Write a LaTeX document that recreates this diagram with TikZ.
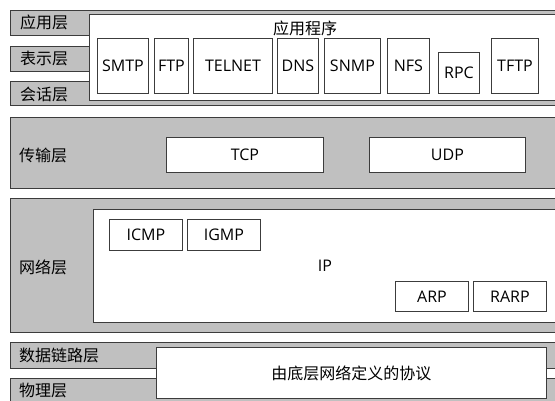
\documentclass[tikz,border=0pt]{standalone}
\usepackage{fontspec}
\setmainfont{Open Sans}
\newfontfamily\cjk{Noto Sans CJK SC}
\usetikzlibrary{positioning}

\definecolor{layergray}{HTML}{C0C0C0}
\definecolor{edgegray}{HTML}{3C3C3C}

\tikzset{
  layer/.style={draw=edgegray, fill=layergray, line width=0.9pt, anchor=north west, inner sep=0pt},
  panel/.style={draw=edgegray, fill=white, line width=0.9pt, anchor=north west, inner sep=0pt},
  proto/.style={draw=edgegray, fill=white, line width=0.9pt, anchor=north west, inner sep=0pt,
    font=\fontsize{16}{18}\selectfont},
  lname/.style={anchor=west, inner sep=0pt, font=\cjk\fontsize{16}{18}\selectfont},
}

\begin{document}
\begin{tikzpicture}[x=1pt, y=-1pt]
        \useasboundingbox (0,0) rectangle (555,400);
        \clip (0,0) rectangle (555,400);

        % 层
        \node[layer, minimum width=560pt, minimum height=25pt] (app) at (10,10) {};
        \node[layer, minimum width=560pt, minimum height=25pt] (pres) at (10,46) {};
        \node[layer, minimum width=560pt, minimum height=24pt] (sess) at (10,81) {};
        \node[layer, minimum width=560pt, minimum height=71pt] (trans) at (10,117) {};
        \node[layer, minimum width=560pt, minimum height=134pt] (net) at (10,198) {};
        \node[layer, minimum width=560pt, minimum height=26pt] (link) at (10,342) {};
        \node[layer, minimum width=560pt, minimum height=30pt] (phys) at (10,378) {};

        \node[lname] (appname) at (20,22) {应用层};
        \node[lname] (presname) at (20,58) {表示层};
        \node[lname] (sessname) at (20,94) {会话层};
        \node[lname] (transname) at (19,155) {传输层};
        \node[lname] (netname) at (19,267) {网络层};
        \node[lname] (linkname) at (19,355) {数据链路层};
        \node[lname] (physname) at (19,390) {物理层};

        % 应用程序
        \node[panel, minimum width=480pt, minimum height=86pt] (apps) at (89,14) {};
        \node[lname, anchor=center] (appstitle) at (305,28) {应用程序};
        \node[proto, minimum width=51pt, minimum height=55pt] (smtp) at (97,38) {SMTP};
        \node[proto, minimum width=34pt, minimum height=55pt] (ftp) at (154,38) {FTP};
        \node[proto, minimum width=79pt, minimum height=55pt] (telnet) at (193,38) {TELNET};
        \node[proto, minimum width=41pt, minimum height=55pt] (dns) at (277,38) {DNS};
        \node[proto, minimum width=56pt, minimum height=55pt] (snmp) at (324,38) {SNMP};
        \node[proto, minimum width=42pt, minimum height=55pt] (nfs) at (387,38) {NFS};
        \node[proto, minimum width=41pt, minimum height=41pt] (rpc) at (438,52) {RPC};
        \node[proto, minimum width=47pt, minimum height=55pt] (tftp) at (491,38) {TFTP};

        % 传输
        \node[proto, minimum width=157pt, minimum height=35pt] (tcp) at (166,137) {TCP};
        \node[proto, minimum width=156pt, minimum height=35pt] (udp) at (369,137) {UDP};

        % 网络
        \node[panel, minimum width=480pt, minimum height=113pt] (ip) at (93,209) {};
        \node[proto, draw=none, fill=none, anchor=center] (iplabel) at (325,266) {IP};
        \node[proto, minimum width=73pt, minimum height=31pt] (icmp) at (109,219) {ICMP};
        \node[proto, minimum width=73pt, minimum height=31pt] (igmp) at (187,219) {IGMP};
        \node[proto, minimum width=73pt, minimum height=30pt] (arp) at (395,281) {ARP};
        \node[proto, minimum width=73pt, minimum height=30pt] (rarp) at (473,281) {RARP};

        % 底层
        \node[panel, minimum width=390pt, minimum height=51pt, font=\cjk\fontsize{16}{18}\selectfont] (lower) at (156,347) {由底层网络定义的协议};
    \end{tikzpicture}
\end{document}
